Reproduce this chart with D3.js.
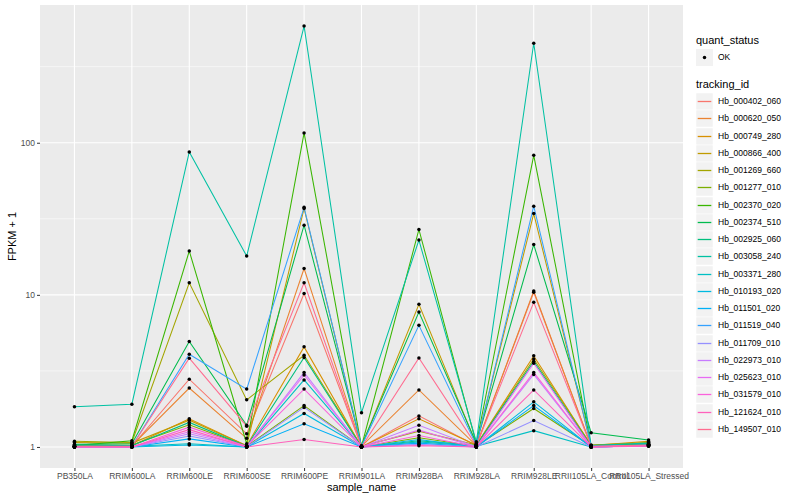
<!DOCTYPE html>
<html>
<head>
<meta charset="utf-8">
<title>FPKM by sample</title>
<style>
body { margin: 0; background: #fff; }
text { font-family: "Liberation Sans", Arial, sans-serif; }
</style>
<script src="https://d3js.org/d3.v7.min.js"></script>
</head>
<body>
<script>
var samples = ["PB350LA", "RRIM600LA", "RRIM600LE", "RRIM600SE", "RRIM600PE", "RRIM901LA",
               "RRIM928BA", "RRIM928LA", "RRIM928LE", "RRII105LA_Control", "RRII105LA_Stressed"];

var trackingIds = ["Hb_000402_060", "Hb_000620_050", "Hb_000749_280", "Hb_000866_400", "Hb_001269_660",
                   "Hb_001277_010", "Hb_002370_020", "Hb_002374_510", "Hb_002925_060", "Hb_003058_240",
                   "Hb_003371_280", "Hb_010193_020", "Hb_011501_020", "Hb_011519_040", "Hb_011709_010",
                   "Hb_022973_010", "Hb_025623_010", "Hb_031579_010", "Hb_121624_010", "Hb_149507_010"];

// FPKM + 1, one row per tracking id, one column per sample
var fpkmPlus1 = [
  [1.01, 1.01, 2.79, 1.22, 10.2, 1.00, 1.60, 1.02, 10.4, 1.01, 1.03],
  [1.01, 1.02, 2.44, 1.14, 14.9, 1.01, 2.37, 1.02, 10.6, 1.01, 1.04],
  [1.02, 1.02, 1.53, 1.02, 4.55, 1.00, 1.53, 1.03, 3.97, 1.02, 1.09],
  [1.07, 1.06, 1.50, 1.02, 37.0, 1.01, 8.67, 1.04, 34.2, 1.02, 1.06],
  [1.09, 1.07, 12.0, 2.04, 4.01, 1.01, 1.27, 1.03, 3.78, 1.03, 1.07],
  [1.02, 1.03, 1.40, 1.01, 1.87, 1.00, 1.15, 1.01, 1.79, 1.01, 1.05],
  [1.02, 1.10, 19.4, 1.05, 116, 1.01, 26.9, 1.05, 82.6, 1.02, 1.04],
  [1.04, 1.05, 4.93, 1.39, 28.7, 1.02, 7.70, 1.06, 21.4, 1.24, 1.11],
  [1.03, 1.02, 1.45, 1.01, 3.87, 1.00, 1.10, 1.02, 3.65, 1.01, 1.04],
  [1.84, 1.91, 87.0, 18.0, 585, 1.68, 22.9, 1.08, 451, 1.02, 1.06],
  [1.00, 1.01, 1.05, 1.00, 2.76, 1.00, 1.08, 1.01, 1.28, 1.00, 1.02],
  [1.00, 1.00, 1.03, 1.00, 1.66, 1.00, 1.12, 1.00, 1.98, 1.00, 1.02],
  [1.00, 1.00, 1.13, 1.00, 1.42, 1.00, 1.06, 1.00, 1.87, 1.00, 1.02],
  [1.01, 1.01, 4.07, 2.40, 37.6, 1.01, 6.30, 1.03, 38.3, 1.01, 1.03],
  [1.00, 1.00, 1.18, 1.00, 1.82, 1.00, 1.04, 1.00, 1.49, 1.00, 1.02],
  [1.00, 1.00, 1.22, 1.00, 3.09, 1.00, 1.39, 1.00, 3.00, 1.00, 1.02],
  [1.00, 1.00, 1.26, 1.01, 2.97, 1.00, 1.29, 1.00, 3.55, 1.00, 1.02],
  [1.00, 1.00, 1.35, 1.01, 2.40, 1.00, 1.19, 1.00, 3.09, 1.00, 1.02],
  [1.00, 1.00, 1.30, 1.00, 1.12, 1.00, 1.02, 1.00, 2.37, 1.00, 1.01],
  [1.01, 1.01, 3.83, 1.37, 12.0, 1.00, 3.85, 1.02, 8.93, 1.01, 1.03]
];

var colors = ["#F8766D", "#EA8331", "#D89000", "#C09B00", "#A3A500", "#7CAE00", "#39B600", "#00BB4E",
              "#00BF7D", "#00C1A3", "#00BFC4", "#00BAE0", "#00B0F6", "#35A2FF", "#9590FF", "#C77CFF",
              "#E76BF3", "#FA62DB", "#FF62BC", "#FF6C90"];

var yTicks = [1, 10, 100];
var yMinor = [Math.sqrt(10), Math.sqrt(1000), Math.sqrt(100000)];

var W = 800, H = 500;
var pLeft = 40, pRight = 683, pTop = 5, pBottom = 468;

var svg = d3.select("body").append("svg")
    .attr("width", W)
    .attr("height", H);

// scales
var x = d3.scalePoint().domain(samples).range([pLeft, pRight]).padding(0.6);

var allVals = d3.merge(fpkmPlus1);
var lo = Math.log10(d3.min(allVals)), hi = Math.log10(d3.max(allVals));
var pad = (hi - lo) * 0.05;
var y = d3.scaleLog()
    .domain([Math.pow(10, lo - pad), Math.pow(10, hi + pad)])
    .range([pBottom, pTop]);

// panel
svg.append("rect")
    .attr("x", pLeft).attr("y", pTop)
    .attr("width", pRight - pLeft).attr("height", pBottom - pTop)
    .attr("fill", "#EBEBEB");

svg.append("g").selectAll("line")
    .data(yMinor.filter(function(d) { return y(d) > pTop; }))
    .enter().append("line")
    .attr("x1", pLeft).attr("x2", pRight)
    .attr("y1", function(d) { return y(d); })
    .attr("y2", function(d) { return y(d); })
    .attr("stroke", "#fff").attr("stroke-width", 0.55);

svg.append("g").selectAll("line")
    .data(yTicks)
    .enter().append("line")
    .attr("x1", pLeft).attr("x2", pRight)
    .attr("y1", function(d) { return y(d); })
    .attr("y2", function(d) { return y(d); })
    .attr("stroke", "#fff").attr("stroke-width", 1.1);

svg.append("g").selectAll("line")
    .data(samples)
    .enter().append("line")
    .attr("x1", function(d) { return x(d); })
    .attr("x2", function(d) { return x(d); })
    .attr("y1", pTop).attr("y2", pBottom)
    .attr("stroke", "#fff").attr("stroke-width", 1.1);

// lines
var line = d3.line()
    .x(function(d, i) { return x(samples[i]); })
    .y(function(d) { return y(d); });

svg.append("g").selectAll("path")
    .data(fpkmPlus1)
    .enter().append("path")
    .attr("d", line)
    .attr("fill", "none")
    .attr("stroke", function(d, i) { return colors[i]; })
    .attr("stroke-width", 1.05);

// points
var pts = [];
fpkmPlus1.forEach(function(row) {
  row.forEach(function(v, j) { pts.push({ s: samples[j], v: v }); });
});
svg.append("g").selectAll("circle")
    .data(pts)
    .enter().append("circle")
    .attr("cx", function(d) { return x(d.s); })
    .attr("cy", function(d) { return y(d.v); })
    .attr("r", 1.75)
    .attr("fill", "#000");

// axes
var xAxis = svg.append("g")
    .attr("transform", "translate(0," + pBottom + ")")
    .call(d3.axisBottom(x).tickSize(3).tickPadding(2));
var yAxis = svg.append("g")
    .attr("transform", "translate(" + pLeft + ",0)")
    .call(d3.axisLeft(y).tickValues(yTicks).tickFormat(d3.format("d")).tickSize(3).tickPadding(2));

[xAxis, yAxis].forEach(function(a) {
  a.select(".domain").remove();
  a.selectAll(".tick line").attr("stroke", "#333").attr("stroke-width", 1);
  a.selectAll(".tick text")
    .attr("fill", "#4D4D4D")
    .attr("font-size", "8.5px")
    .attr("font-family", "Liberation Sans, Arial, sans-serif");
});

svg.append("text")
    .attr("x", (pLeft + pRight) / 2).attr("y", 491)
    .attr("text-anchor", "middle")
    .attr("font-size", "11px")
    .text("sample_name");

svg.append("text")
    .attr("transform", "translate(16," + ((pTop + pBottom) / 2) + ") rotate(-90)")
    .attr("text-anchor", "middle")
    .attr("font-size", "11px")
    .text("FPKM + 1");

// legend: quant_status
var lx = 696;
svg.append("text")
    .attr("x", lx).attr("y", 44)
    .attr("font-size", "11px")
    .text("quant_status");
svg.append("rect")
    .attr("x", lx).attr("y", 49)
    .attr("width", 17).attr("height", 17)
    .attr("fill", "#F2F2F2");
svg.append("circle")
    .attr("cx", lx + 8.5).attr("cy", 57.5).attr("r", 1.75).attr("fill", "#000");
svg.append("text")
    .attr("x", lx + 22).attr("y", 57.5).attr("dy", "0.35em")
    .attr("font-size", "8.5px")
    .text("OK");

// legend: tracking_id
svg.append("text")
    .attr("x", lx).attr("y", 88)
    .attr("font-size", "11px")
    .text("tracking_id");

var key = svg.append("g").selectAll("g")
    .data(trackingIds)
    .enter().append("g")
    .attr("transform", function(d, i) { return "translate(" + lx + "," + Math.round(93 + i * 17.25) + ")"; });

key.append("rect")
    .attr("width", 17).attr("height", 17)
    .attr("fill", "#F2F2F2")
    .attr("stroke", "#fff").attr("stroke-width", 0.5);
key.append("line")
    .attr("x1", 1.7).attr("x2", 15.3)
    .attr("y1", 8.5).attr("y2", 8.5)
    .attr("stroke", function(d, i) { return colors[i]; })
    .attr("stroke-width", 1.3);
key.append("text")
    .attr("x", 22).attr("y", 8.5).attr("dy", "0.35em")
    .attr("font-size", "8.5px")
    .text(function(d) { return d; });
</script>
</body>
</html>
